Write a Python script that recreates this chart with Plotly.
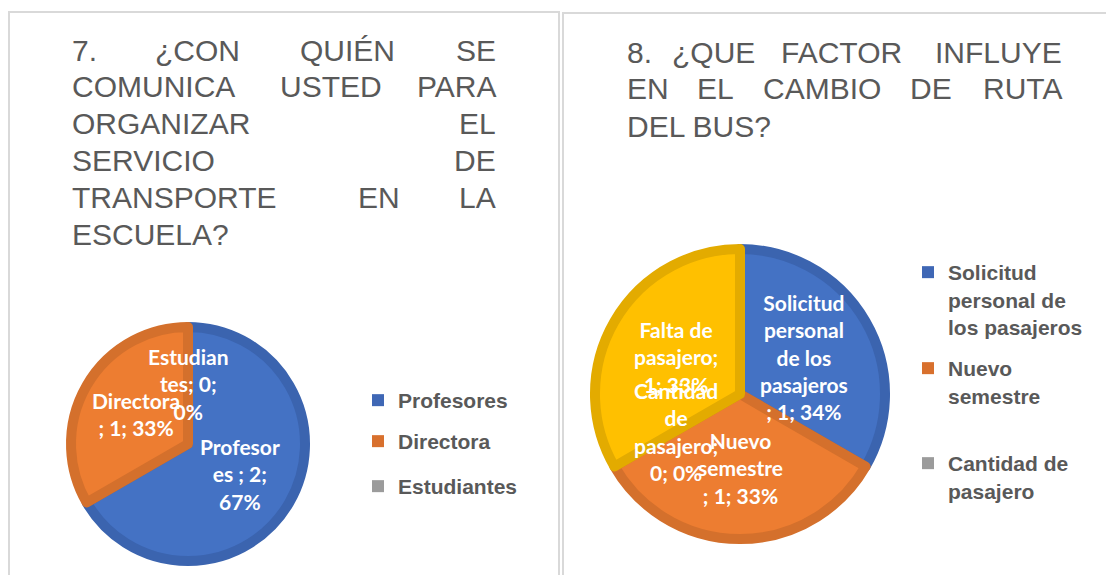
import math
import plotly.graph_objects as go

# page is 1114x583; the html body keeps its default 8px margin, so the figure is inset
PAGE_W, PAGE_H = 1114, 583
OFF = 8
W, H = PAGE_W - 2 * OFF, PAGE_H - 2 * OFF

# ---------------- data: question 7 ----------------
q7_categories = ["Profesores", "Directora", "Estudiantes"]
q7_values = [2, 1, 0]
q7_point_labels = ["Profesor<br>es ; 2;<br>67%", "Directora<br>; 1; 33%", "Estudian<br>tes; 0;<br>0%"]
q7_legend_labels = ["Profesores", "Directora", "Estudiantes"]
q7_title_lines = [
    ["7.", "¿CON", "QUIÉN", "SE"],
    ["COMUNICA", "USTED", "PARA"],
    ["ORGANIZAR", "EL"],
    ["SERVICIO", "DE"],
    ["TRANSPORTE", "EN", "LA"],
    ["ESCUELA?"],
]

# ---------------- data: question 8 ----------------
q8_categories = ["Solicitud personal de los pasajeros", "Nuevo semestre",
                 "Cantidad de pasajero", "Falta de pasajero"]
q8_values = [1, 1, 0, 1]
q8_point_labels = ["Solicitud<br>personal<br>de los<br>pasajeros<br>; 1; 34%",
                   "Nuevo<br>semestre<br>; 1; 33%",
                   "Cantidad<br>de<br>pasajero;<br>0; 0%",
                   "Falta de<br>pasajero;<br>1; 33%"]
q8_legend_labels = ["Solicitud<br>personal de<br>los pasajeros", "Nuevo<br>semestre",
                    "Cantidad de<br>pasajero"]
q8_title_lines = [
    ["8.", "¿QUE", "FACTOR", "INFLUYE"],
    ["EN", "EL", "CAMBIO", "DE", "RUTA"],
    ["DEL BUS?"],
]

# ---------------- styling ----------------
FILL = ["#4472C4", "#ED7D31", "#A5A5A5", "#FFC000"]
EDGE = ["#3B64AF", "#D4702C", "#939393", "#E3AB00"]
LEG = ["#3F67B5", "#D8702D", "#9B9B9B", "#E3AB00"]
TITLE_COLOR = "#595959"


def px(x):
    return (x - OFF) / W


def py(y):
    return 1 - (y - OFF) / H


fig = go.Figure()
annotations = []
shapes = []

# panel borders
shapes.append(dict(type="rect", xref="paper", yref="paper", x0=px(9), x1=px(559),
                   y0=py(600), y1=py(12), line=dict(color="#D9D9D9", width=2)))
shapes.append(dict(type="rect", xref="paper", yref="paper", x0=px(563), x1=px(1125),
                   y0=py(600), y1=py(13), line=dict(color="#D9D9D9", width=2)))


def add_pie(cx, cy, r, cats, values, point_labels):
    n = len(values)
    fig.add_trace(go.Pie(
        labels=cats, values=values, sort=False, direction="clockwise", rotation=0,
        marker=dict(colors=EDGE[:n], line=dict(width=0)),
        textinfo="none", hoverinfo="skip", showlegend=False,
        domain=dict(x=[px(cx - r), px(cx + r)], y=[py(cy + r), py(cy - r)])))
    ri = r - 3
    fig.add_trace(go.Pie(
        labels=cats, values=values, sort=False, direction="clockwise", rotation=0,
        marker=dict(colors=FILL[:n],
                    line=dict(color=EDGE[:n], width=[10 if v > 0 else 0 for v in values])),
        textinfo="none", hoverinfo="skip", showlegend=False,
        domain=dict(x=[px(cx - ri), px(cx + ri)], y=[py(cy + ri), py(cy - ri)])))
    total = sum(values)
    cum = 0
    for v, txt in zip(values, point_labels):
        mid = (cum + v / 2) / total * 2 * math.pi
        cum += v
        lx = cx + 0.5 * r * math.sin(mid)
        ly = cy - 0.5 * r * math.cos(mid)
        annotations.append(dict(x=px(lx), y=py(ly), xref="paper", yref="paper",
                                text=txt, showarrow=False, xanchor="center", yanchor="middle",
                                font=dict(family="Lato", size=21, color="white", weight=700)))


add_pie(188, 444, 120, q7_categories, q7_values, q7_point_labels)
add_pie(740, 394, 148, q8_categories, q8_values, q8_point_labels)


def add_title(lines, left, right, y0, step, middle_centers):
    for i, words in enumerate(lines):
        y = y0 + i * step
        if len(words) == 1:
            anchors = [("left", left)]
        else:
            anchors = [("left", left)]
            anchors += [("center", c) for c in middle_centers.get(i, [])]
            anchors += [("right", right)]
        for w, (anc, x) in zip(words, anchors):
            annotations.append(dict(x=px(x), y=py(y), xref="paper", yref="paper", text=w,
                                    showarrow=False, xanchor=anc, yanchor="middle",
                                    font=dict(family="Liberation Sans", size=30, color=TITLE_COLOR)))


add_title(q7_title_lines, 70, 498, 50, 36.8, {0: [197.5, 347.5], 1: [331], 4: [378.5]})
add_title(q8_title_lines, 625, 1064, 52, 37, {0: [713, 841], 1: [715.5, 821.5, 931]})

# legends
legend_layout = {}
leg_idx = [0]


def add_legend_item(name, color, text_x, first_line_y):
    leg_idx[0] += 1
    k = leg_idx[0]
    lid = "legend" if k == 1 else f"legend{k}"
    fig.add_trace(go.Scatter(x=[None], y=[None], mode="markers", name=name,
                             marker=dict(symbol="square", size=12, color=color),
                             legend=lid, hoverinfo="skip"))
    legend_layout[lid] = dict(x=px(text_x - 40), y=py(first_line_y - 20), xanchor="left",
                              yanchor="top", bgcolor="rgba(0,0,0,0)", borderwidth=0,
                              valign="top", itemclick=False, itemdoubleclick=False,
                              font=dict(family="Liberation Sans", size=21, color=TITLE_COLOR,
                                        weight=700))


for name, col, y in zip(q7_legend_labels, LEG, [400, 441, 486]):
    add_legend_item(name, col, 398, y)
for name, col, y in zip(q8_legend_labels, LEG, [272, 368, 463]):
    add_legend_item(name, col, 948, y)

fig.update_layout(
    width=W, height=H, margin=dict(l=0, r=0, t=0, b=0),
    paper_bgcolor="white", plot_bgcolor="white",
    xaxis=dict(visible=False), yaxis=dict(visible=False),
    annotations=annotations, shapes=shapes, showlegend=True,
    **legend_layout,
)

fig.write_html("out.html")
